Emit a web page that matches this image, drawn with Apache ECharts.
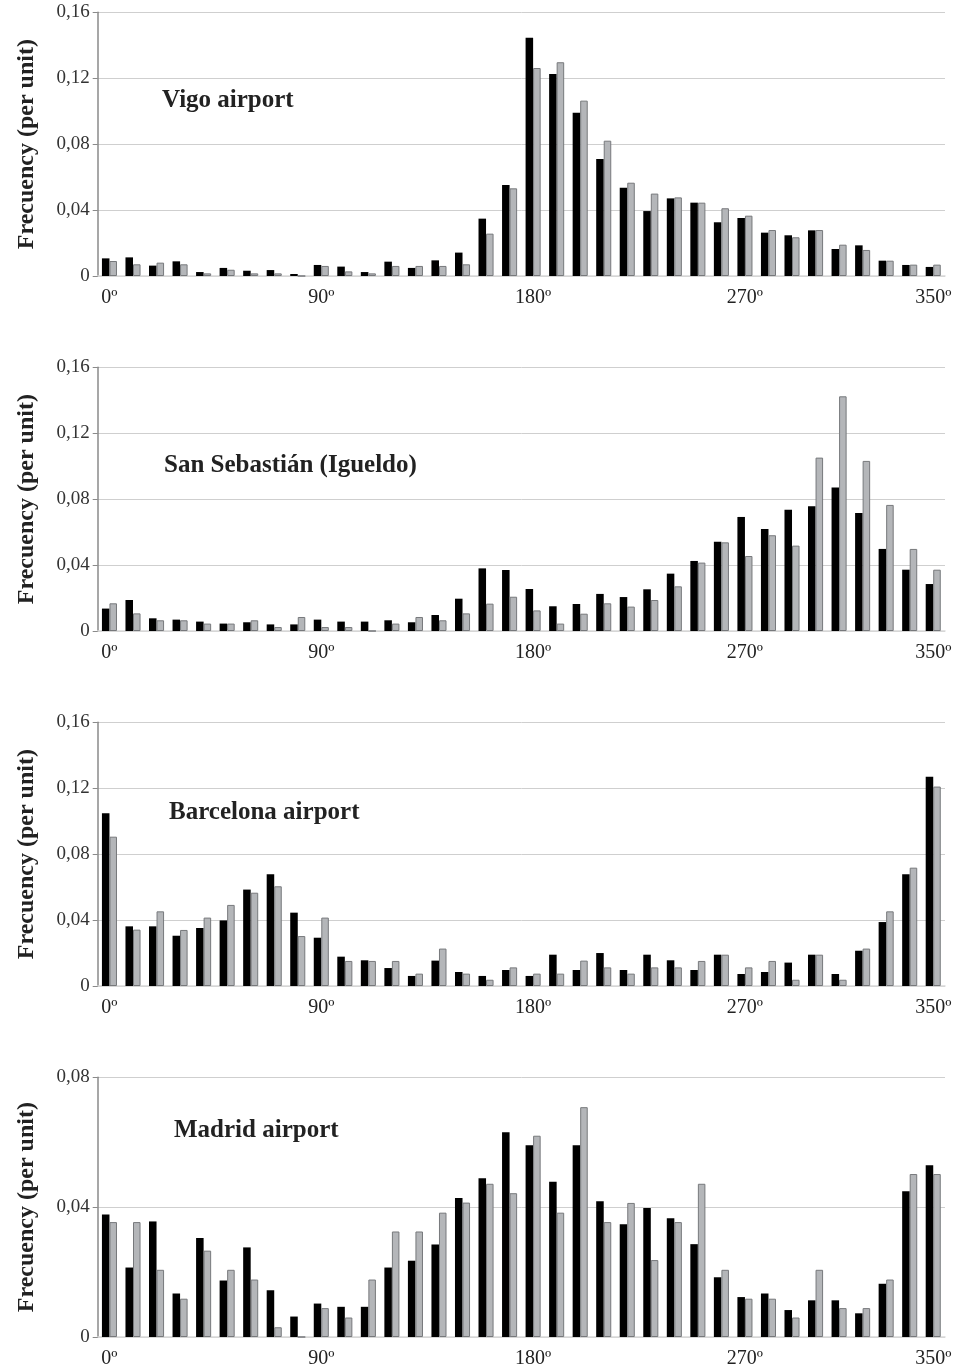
<!DOCTYPE html>
<html><head><meta charset="utf-8">
<script src="https://cdn.jsdelivr.net/npm/echarts@6/dist/echarts.min.js"></script>
<style>html,body{margin:0;padding:0;background:#fff}#c{width:958px;height:1369px}</style>
</head><body><div id="c"></div>
<script>
const categories = ['0º','10º','20º','30º','40º','50º','60º','70º','80º','90º','100º','110º','120º','130º','140º','150º','160º','170º','180º','190º','200º','210º','220º','230º','240º','250º','260º','270º','280º','290º','300º','310º','320º','330º','340º','350º'];
const shownLabels = ['0º','90º','180º','270º','350º'];
const titles = ['Vigo airport','San Sebastián (Igueldo)','Barcelona airport','Madrid airport'];
const yMax = [0.16, 0.16, 0.16, 0.08];
const yInterval = [0.04, 0.04, 0.04, 0.04];

const vigoBlack = [0.0107,0.0113,0.0063,0.0089,0.0024,0.0049,0.0032,0.0036,0.0012,0.0067,0.0057,0.0024,0.0087,0.0049,0.0095,0.0142,0.0348,0.0552,0.1446,0.1226,0.0991,0.0710,0.0536,0.0394,0.0471,0.0445,0.0326,0.0352,0.0263,0.0247,0.0277,0.0164,0.0186,0.0093,0.0067,0.0055];
const vigoGray  = [0.0091,0.0071,0.0081,0.0071,0.0016,0.0038,0.0016,0.0016,0,0.0061,0.0028,0.0016,0.0061,0.0061,0.0061,0.0071,0.0257,0.0532,0.1262,0.1297,0.1064,0.0821,0.0566,0.0500,0.0477,0.0445,0.0411,0.0366,0.0279,0.0235,0.0279,0.0190,0.0158,0.0093,0.0069,0.0069];

const ssBlack = [0.0136,0.0188,0.0077,0.0069,0.0057,0.0045,0.0053,0.0040,0.0040,0.0069,0.0057,0.0057,0.0065,0.0053,0.0097,0.0196,0.0380,0.0370,0.0255,0.0150,0.0164,0.0225,0.0206,0.0253,0.0348,0.0425,0.0542,0.0692,0.0619,0.0736,0.0757,0.0870,0.0716,0.0498,0.0372,0.0285];
const ssGray  = [0.0168,0.0107,0.0065,0.0065,0.0045,0.0045,0.0065,0.0024,0.0085,0.0024,0.0024,0,0.0045,0.0085,0.0065,0.0107,0.0166,0.0208,0.0125,0.0045,0.0105,0.0168,0.0148,0.0188,0.0271,0.0415,0.0538,0.0455,0.0581,0.0518,0.1052,0.1424,0.1032,0.0765,0.0498,0.0372];

const bcnBlack = [0.1048,0.0362,0.0362,0.0305,0.0352,0.0398,0.0585,0.0678,0.0445,0.0293,0.0178,0.0156,0.0109,0.0061,0.0154,0.0085,0.0061,0.0097,0.0061,0.0190,0.0097,0.0200,0.0097,0.0190,0.0156,0.0097,0.0190,0.0073,0.0085,0.0142,0.0190,0.0073,0.0214,0.0388,0.0678,0.1270];
const bcnGray  = [0.0906,0.0342,0.0453,0.0340,0.0415,0.0492,0.0566,0.0605,0.0303,0.0415,0.0152,0.0152,0.0152,0.0075,0.0227,0.0075,0.0038,0.0113,0.0075,0.0075,0.0154,0.0113,0.0075,0.0113,0.0113,0.0152,0.0190,0.0113,0.0152,0.0038,0.0190,0.0038,0.0227,0.0453,0.0718,0.1210];

const madBlack = [0.0377,0.0214,0.0356,0.0134,0.0305,0.0174,0.0276,0.0144,0.0063,0.0103,0.0093,0.0093,0.0214,0.0235,0.0285,0.0428,0.0489,0.0631,0.0591,0.0478,0.0591,0.0418,0.0347,0.0397,0.0366,0.0286,0.0184,0.0123,0.0134,0.0083,0.0113,0.0113,0.0073,0.0164,0.0449,0.0529];
const madGray  = [0.0354,0.0354,0.0207,0.0118,0.0266,0.0207,0.0177,0.0030,0,0.0089,0.0060,0.0177,0.0325,0.0325,0.0383,0.0414,0.0472,0.0443,0.0620,0.0383,0.0708,0.0354,0.0413,0.0237,0.0354,0.0472,0.0207,0.0118,0.0118,0.0060,0.0207,0.0089,0.0089,0.0177,0.0502,0.0502];

const blackSeries = [vigoBlack, ssBlack, bcnBlack, madBlack];
const graySeries = [vigoGray, ssGray, bcnGray, madGray];

const FONT = 'Liberation Serif';
const panelTop = [12.3, 367.3, 722.3, 1077.3];
const panelH = 263.7;
const titlePos = [[162, 88], [164, 453], [169, 800], [174, 1118]];

const chart = echarts.init(document.getElementById('c'), null, {renderer:'canvas'});
const grids = [], xAxes = [], yAxes = [], series = [], titleArr = [];
for (let i = 0; i < 4; i++) {
  grids.push({left: 97.7, right: 13, top: panelTop[i], height: panelH, containLabel: false});
  xAxes.push({
    type: 'category', gridIndex: i, data: categories, boundaryGap: true,
    axisLine: {lineStyle: {color: '#d9d9d9', width: 1.5}},
    axisTick: {show: false},
    axisLabel: {
      interval: (idx, val) => shownLabels.indexOf(val) >= 0,
      color: '#222', fontFamily: FONT, fontSize: 20, margin: 12
    }
  });
  yAxes.push({
    type: 'value', gridIndex: i, min: 0, max: yMax[i], interval: yInterval[i],
    name: 'Frecuency (per unit)', nameLocation: 'middle', nameRotate: 90, nameGap: 59,
    nameTextStyle: {fontFamily: FONT, fontWeight: 'bold', fontSize: 24, color: '#222'},
    axisLine: {show: true, lineStyle: {color: '#8a8a8a', width: 1.5}},
    axisTick: {show: true, length: 5, lineStyle: {color: '#8a8a8a'}},
    splitLine: {lineStyle: {color: '#cfcfcf', width: 1}},
    axisLabel: {
      color: '#333', fontFamily: FONT, fontSize: 19, margin: 8,
      formatter: v => v === 0 ? '0' : v.toFixed(2).replace('.', ',')
    }
  });
  series.push({
    type: 'bar', xAxisIndex: i, yAxisIndex: i, data: blackSeries[i],
    itemStyle: {color: '#000'}, barGap: '0%', barCategoryGap: '36%', animation: false
  });
  series.push({
    type: 'bar', xAxisIndex: i, yAxisIndex: i, data: graySeries[i],
    itemStyle: {color: '#b4b6b9', borderColor: '#77797c', borderWidth: 1}, barGap: '0%', barCategoryGap: '36%', animation: false
  });
  titleArr.push({
    text: titles[i], left: titlePos[i][0], top: titlePos[i][1],
    textStyle: {fontFamily: FONT, fontWeight: 'bold', fontSize: 25, color: '#222'}, padding: 0
  });
}
chart.setOption({
  animation: false,
  backgroundColor: '#fff',
  title: titleArr,
  grid: grids, xAxis: xAxes, yAxis: yAxes, series: series
});
</script></body></html>
